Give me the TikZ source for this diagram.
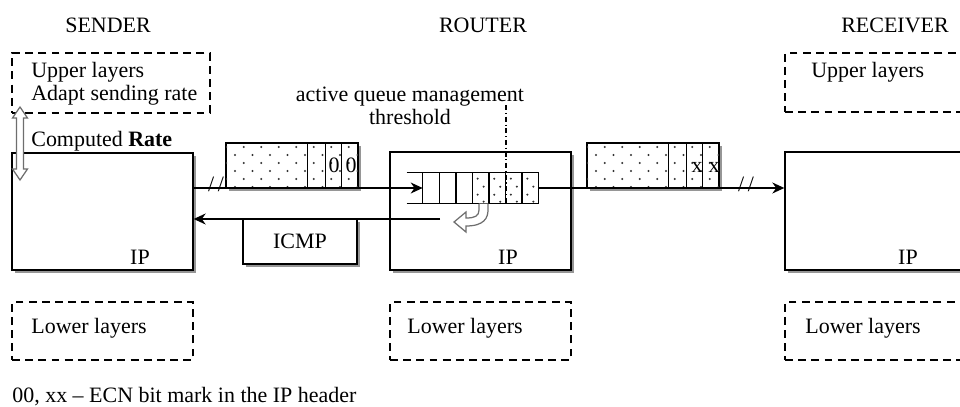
\documentclass[tikz,border=0pt]{standalone}
\usepackage{fontspec}
\setmainfont{Liberation Serif}
\usepackage{tikz}
\usetikzlibrary{arrows.meta,shadows,calc}
\definecolor{shadowgray}{RGB}{150,150,150}
\definecolor{arrowgray}{RGB}{110,110,110}
\definecolor{dotgray}{RGB}{50,50,50}

% dotted payload, corners in px
\newcommand{\pktdots}[4]{%
  \begin{scope}
    \clip (#1,#2) rectangle (#3,#4);
    \foreach \r in {0,...,5} {
      \foreach \c in {-1,...,8} {
        \fill[dotgray] ({#1+9+\c*17.5+mod(\r+1,2)*8.75},{#2+4+\r*8}) circle (0.65pt);
      }
    }
  \end{scope}}

\begin{document}
\begin{tikzpicture}[
  x=0.02cm, y=-0.02cm,
  font=\fontsize{12.5}{13.2}\selectfont,
  lw/.style={line width=0.8pt},
  solidbox/.style={draw, line width=0.8pt, fill=white, inner sep=0pt,
    drop shadow={shadow xshift=0.06cm, shadow yshift=-0.06cm, fill=shadowgray, opacity=1}},
  dashbox/.style={draw, line width=0.8pt, dash pattern=on 4.5pt off 3pt, inner sep=0pt},
  txt/.style={inner sep=0pt},
  flow/.style={line width=0.8pt, -{Stealth[length=0.24cm, width=0.22cm]}},
  hollow/.style={draw=arrowgray, fill=white, line width=0.7pt}
]
\useasboundingbox (0,0) rectangle (960,406);

% column titles
\node[txt] (sender)   at (108,25) {SENDER};
\node[txt] (router)   at (483,25) {ROUTER};
\node[txt] (receiver) at (895,25) {RECEIVER};

% layer boxes
\node[dashbox, minimum width=3.96cm, minimum height=1.2cm] (sendUp) at (111,83) {};
\node[dashbox, minimum width=3.62cm, minimum height=1.18cm] (recvUp) at (875.5,82.5) {};
\node[solidbox, minimum width=3.62cm, minimum height=2.34cm] (sendIP) at (102.5,211.5) {};
\node[solidbox, minimum width=3.62cm, minimum height=2.36cm] (routerIP) at (480.5,211) {};
\node[solidbox, minimum width=3.62cm, minimum height=2.36cm] (recvIP) at (875.5,211) {};
\foreach \x/\nm in {102.5/sendLow, 480.5/routerLow, 875.5/recvLow} {
  \node[dashbox, minimum width=3.62cm, minimum height=1.16cm] (\nm) at (\x,331) {};
}

\node[txt, anchor=west, align=left] (sendUpTxt) at (31,83.5) {Upper layers\\Adapt sending rate};
\node[txt, anchor=west] (recvUpTxt) at (811,72) {Upper layers};
\node[txt, anchor=west] (rateTxt) at (31,141) {Computed \textbf{Rate}};
\node[txt] (ipS) at (140,257) {IP};
\node[txt] (ipR) at (508,257) {IP};
\node[txt] (ipC) at (908,257) {IP};
\foreach \x/\nm in {31/lowS, 407/lowR, 805/lowC} {
  \node[txt, anchor=west] (\nm) at (\x,328) {Lower layers};
}

% rate signal
\draw[hollow] (20,107) -- (27.5,118) -- (23.5,118) -- (23.5,169) -- (27.5,169) -- (20,180)
  -- (12.5,169) -- (16.5,169) -- (16.5,118) -- (12.5,118) -- cycle;

% packets
\node[solidbox, minimum width=2.64cm, minimum height=0.9cm] (pkt1) at (292,165.5) {};
\pktdots{226}{143}{358}{188}
\node[solidbox, minimum width=2.64cm, minimum height=0.9cm] (pkt2) at (653,165.5) {};
\pktdots{587}{143}{719}{188}
\foreach \p in {pkt1,pkt2} {
  \draw[lw] (\p.north west) rectangle (\p.south east);
  \foreach \d in {82,100,116} {
    \draw[lw] ($(\p.north west)+(\d,0)$) -- ($(\p.south west)+(\d,0)$);
  }
}
\node[txt] (bit1) at (334,165) {0};
\node[txt] (bit2) at (351,165) {0};
\node[txt] (bit3) at (697,167) {x};
\node[txt] (bit4) at (714,167) {x};

% ICMP message
\node[solidbox, minimum width=2.28cm, minimum height=0.9cm] (icmp) at (300,241.5) {ICMP};

% router queue
\node[inner sep=0pt, minimum width=2.32cm, minimum height=0.6cm] (queue) at (481,188) {};
\foreach \i in {3,...,6} {
  \foreach \yy/\dx in {179/-3, 187/3, 195/-3, 202/3} {
    \fill[dotgray] ($(queue.north west)+(\i*16.57+8.3+\dx,\yy-173)$) circle (0.65pt);
  }
}
\draw[lw] ([xshift=-0.32cm]queue.north west) -- (queue.north east);
\draw[lw] ([xshift=-0.32cm]queue.south west) -- (queue.south east);
\foreach \i in {0,...,7} {
  \draw[lw] ($(queue.south west)+(\i*16.57,0)$) -- ($(queue.north west)+(\i*16.57,0)$);
}

% drop / mark
\draw[hollow] (479,203.5) -- (479,210) .. controls (479,216) and (475,218) .. (466,218)
  -- (466,212) -- (454,222) -- (466,232) -- (466,226)
  .. controls (484,226) and (488,218) .. (488,210) -- (488,203.5);

% threshold
\node[txt, align=center] (aqm) at (410,105.5) {active queue management\\threshold};
\coordinate (thr) at (506,105);
\draw[line width=0.6pt, dash pattern=on 3pt off 1.5pt on 0.6pt off 1.5pt] (thr) -- (thr |- queue.south);

% flows
\draw[flow] (sendIP.east |- queue.west) -- (queue.west);
\draw[flow] (queue.east) -- (recvIP.west |- queue.east);
\coordinate (icmpfrom) at (440,219);
\draw[flow] (icmpfrom) -- (sendIP.east |- icmpfrom);
\node[txt] (brk1) at (216,184) {/\kern2pt/};
\node[txt] (brk2) at (746,184) {/\kern2pt/};

\node[txt, anchor=west] (note) at (12,397) {00, xx -- ECN bit mark in the IP header};
\end{tikzpicture}
\end{document}
